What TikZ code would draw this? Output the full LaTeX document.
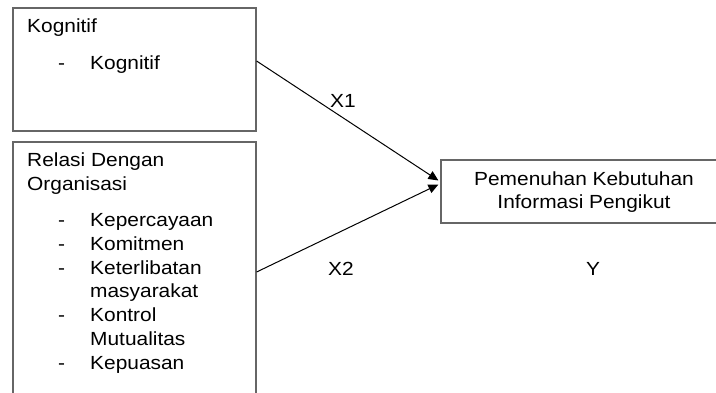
\documentclass[tikz,border=0pt]{standalone}
\usepackage{fontspec}
\setmainfont{Liberation Sans}[FakeStretch=1.1]
\usetikzlibrary{arrows.meta}
\tikzset{
  box/.style={draw=black!60, line width=1.2pt, rectangle, inner sep=0pt},
  txt/.style={anchor=base west, inner sep=0pt, font=\fontsize{19}{23}\selectfont},
  lbl/.style={anchor=base, inner sep=0pt, font=\fontsize{19}{23}\selectfont},
  arr/.style={draw=black, line width=1pt, -{Triangle[length=10pt,width=9pt]}}
}
\begin{document}
\begin{tikzpicture}[x=1pt,y=-1pt]
\useasboundingbox (0,0) rectangle (716,392);
\clip (0,0) rectangle (716,392);
\node[box, minimum width=243pt, minimum height=123pt] (b1) at (134.5,69.5) {};
\node[box, minimum width=243pt, minimum height=280pt] (b2) at (134.5,282) {};
\node[box, minimum width=286pt, minimum height=63pt] (b3) at (584,191.5) {};
% box 1 text
\node[txt] (t11) at (27,32) {Kognitif};
\node[txt] (d11) at (58,69) {-};
\node[txt] (t12) at (90,69) {Kognitif};
% box 2 text
\node[txt] (t21) at (27,166.5) {Relasi Dengan};
\node[txt] (t22) at (27,190) {Organisasi};
\node[txt] (d21) at (58,226.5) {-};
\node[txt] (t23) at (90,226.5) {Kepercayaan};
\node[txt] (d22) at (58,250.5) {-};
\node[txt] (t24) at (90,250.5) {Komitmen};
\node[txt] (d23) at (58,274) {-};
\node[txt] (t25) at (90,274) {Keterlibatan};
\node[txt] (t26) at (90,297.5) {masyarakat};
\node[txt] (d24) at (58,321.5) {-};
\node[txt] (t27) at (90,321.5) {Kontrol};
\node[txt] (t28) at (90,345.5) {Mutualitas};
\node[txt] (d25) at (58,369) {-};
\node[txt] (t29) at (90,369) {Kepuasan};
% box 3 text
\node[lbl] (t31) at (584,185) {Pemenuhan Kebutuhan};
\node[lbl] (t32) at (584,208.5) {Informasi Pengikut};
% labels
\node[lbl] (x1) at (343,107) {X1};
\node[lbl] (x2) at (341,275.5) {X2};
\node[lbl] (y) at (593,275.5) {Y};
% connectors
\coordinate (s1) at (b1.east |- 0,61);
\coordinate (s2) at (b2.east |- 0,272);
\coordinate (e1) at ([xshift=-2pt,yshift=11pt]b3.west);
\coordinate (e2) at ([xshift=-2pt,yshift=7pt]b3.west);
\draw[arr] (s1) -- (e1);
\draw[arr] (s2) -- (e2);
\end{tikzpicture}
\end{document}
